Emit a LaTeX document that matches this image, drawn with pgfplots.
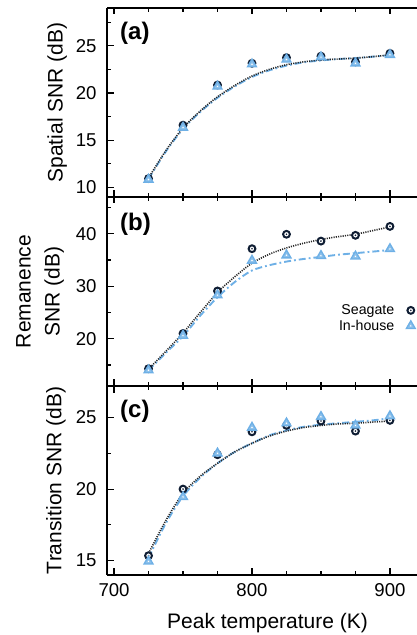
\documentclass[border=0pt]{standalone}
\usepackage{pgfplots}
\pgfplotsset{compat=1.18}
\usepackage{fontspec}
\setmainfont{Liberation Sans}
\definecolor{navy}{HTML}{0F1D33}
\definecolor{lblue}{HTML}{6EB0E6}
\pgfdeclareplotmark{seacirc}{%
  \pgfpathcircle{\pgfpointorigin}{\pgfplotmarksize}%
  \pgfusepathqfillstroke
  \begin{pgfscope}%
  \pgfpathcircle{\pgfpointorigin}{0.9pt}%
  \pgfsetfillcolor{navy}%
  \pgfusepathqfill
  \end{pgfscope}}
\pgfdeclareplotmark{houtri}{%
  \pgfpathmoveto{\pgfpointpolar{90}{\pgfplotmarksize}}%
  \pgfpathlineto{\pgfpointpolar{210}{\pgfplotmarksize}}%
  \pgfpathlineto{\pgfpointpolar{330}{\pgfplotmarksize}}%
  \pgfpathclose
  \pgfusepathqfillstroke
  \begin{pgfscope}%
  \pgfpathcircle{\pgfpointorigin}{0.8pt}%
  \pgfsetfillcolor{white}%
  \pgfusepathqfill
  \end{pgfscope}}
\tikzset{plabel/.style={anchor=north west, inner sep=0pt, font=\fontsize{24}{28}\selectfont\bfseries}}
\pgfplotsset{
  panel/.style={
    scale only axis, width=310pt, height=189pt,
    xmin=694.9, xmax=919.6,
    axis y line*=left, axis x line*=box,
    xtick={700,800,900}, minor xtick={725,750,775,825,850,875},
    tick align=inside, major tick length=6.5pt, minor tick length=4pt,
    every tick/.style={black, line width=1.1pt},
    axis line style={line width=1.6pt},
    tick label style={font=\fontsize{18.6}{22}\selectfont},
    yticklabel style={xshift=-7pt},
    label style={font=\fontsize{21}{29}\selectfont},
    /pgf/number format/assume math mode=true,
    ytick pos=left,
  },
  seafit/.style={black!85, line width=1.6pt, dash pattern=on 1.1pt off 1.2pt, smooth, no marks},
  houfit/.style={lblue, line width=1.9pt, dash pattern=on 7pt off 3pt on 1.8pt off 3pt, smooth, no marks},
  seapt/.style={only marks, mark=seacirc, mark size=3.4pt, mark options={draw=navy, fill=white, line width=2pt, solid}},
  houpt/.style={only marks, mark=houtri, mark size=5.2pt, mark options={draw=lblue, fill=lblue!80!white, line width=1.3pt, solid}},
}
\begin{document}
\begin{tikzpicture}
% ---------------- (a)
\begin{axis}[panel, at={(107pt,438pt)}, anchor=south west,
  ymin=9, ymax=29, ytick={10,15,20,25}, minor ytick={12.5,17.5,22.5,27.5},
  xticklabels={},
  ylabel={Spatial SNR (dB)},
  ylabel style={at={(axis description cs:-0.161,0.5)}, anchor=center}]
\addplot[houfit] coordinates {(725,10.9)(737.5,13.8)(750,16.2)(762.5,18.0)(775,19.5)(787.5,20.7)(800,21.7)(812.5,22.4)(825,22.9)(837.5,23.25)(850,23.45)(862.5,23.6)(875,23.7)(887.5,23.85)(900,24.0)};
\addplot[seafit] coordinates {(725,11.0)(737.5,13.9)(750,16.3)(762.5,18.1)(775,19.6)(787.5,20.8)(800,21.8)(812.5,22.5)(825,23.0)(837.5,23.3)(850,23.5)(862.5,23.6)(875,23.7)(887.5,23.85)(900,24.05)};
\addplot[seapt] coordinates {(725,10.95)(750,16.6)(775,20.85)(800,23.15)(825,23.75)(850,23.9)(875,23.3)(900,24.2)};
\addplot[houpt] coordinates {(725,10.85)(750,16.35)(775,20.7)(800,23.05)(825,23.55)(850,23.8)(875,23.15)(900,24.05)};
\node[plabel] at (axis description cs:0.042,0.926) {(a)};
\end{axis}
% ---------------- (b)
\begin{axis}[panel, at={(107pt,249pt)}, anchor=south west,
  ymin=11, ymax=47, ytick={20,30,40}, minor ytick={15,25,35,45},
  xticklabels={},
  ylabel={Remanence\\SNR (dB)},
  ylabel style={align=center, at={(axis description cs:-0.216,0.5)}, anchor=center},
  legend plot pos=right, legend cell align=right,
  legend style={at={(axis cs:920.7,23.9)}, anchor=east, draw=none, fill=none,
    font=\fontsize{14.2}{17}\selectfont, row sep=0pt, column sep=10pt}]
\addplot[houfit, forget plot] coordinates {(725,14.0)(737.5,17.3)(750,20.5)(762.5,24.4)(775,27.9)(787.5,30.8)(800,33.0)(812.5,34.0)(825,34.7)(837.5,35.2)(850,35.6)(862.5,36.0)(875,36.3)(887.5,36.6)(900,36.9)};
\addplot[seafit, forget plot] coordinates {(725,14.2)(737.5,17.6)(750,21.1)(762.5,25.0)(775,28.8)(787.5,31.8)(800,34.4)(812.5,36.1)(825,37.3)(837.5,38.2)(850,38.9)(862.5,39.45)(875,39.9)(887.5,40.6)(900,41.3)};
\addplot[seapt] coordinates {(725,14.3)(750,21.0)(775,29.1)(800,37.15)(825,39.9)(850,38.6)(875,39.7)(900,41.4)};
\addlegendentry{Seagate}
\addplot[houpt] coordinates {(725,14.0)(750,20.6)(775,28.3)(800,34.9)(825,35.9)(850,35.8)(875,35.7)(900,37.1)};
\addlegendentry{In-house}
\node[plabel] at (axis description cs:0.042,0.915) {(b)};
\end{axis}
% ---------------- (c)
\begin{axis}[panel, at={(107pt,60pt)}, anchor=south west,
  ymin=14, ymax=27.2, ytick={15,20,25}, minor ytick={17.5,22.5},
  xticklabel pos=lower,
  xticklabel style={yshift=-5pt},
  ylabel={Transition SNR (dB)},
  ylabel style={at={(axis description cs:-0.165,0.5)}, anchor=center},
  xlabel={Peak temperature (K)},
  xlabel style={at={(axis description cs:0.518,0)}, anchor=base, yshift=-53pt}]
\addplot[houfit] coordinates {(725,15.2)(737.5,17.6)(750,19.5)(762.5,20.8)(775,21.8)(787.5,22.6)(800,23.2)(812.5,23.75)(825,24.1)(837.5,24.35)(850,24.5)(862.5,24.6)(875,24.7)(887.5,24.8)(900,24.95)};
\addplot[seafit] coordinates {(725,15.5)(737.5,17.8)(750,19.7)(762.5,20.9)(775,21.8)(787.5,22.6)(800,23.2)(812.5,23.7)(825,24.05)(837.5,24.3)(850,24.45)(862.5,24.55)(875,24.6)(887.5,24.68)(900,24.75)};
\addplot[seapt] coordinates {(725,15.35)(750,20.0)(775,22.4)(800,24.0)(825,24.45)(850,24.75)(875,24.05)(900,24.8)};
\addplot[houpt] coordinates {(725,14.95)(750,19.45)(775,22.5)(800,24.3)(825,24.6)(850,25.05)(875,24.45)(900,25.1)};
\node[plabel] at (axis description cs:0.042,0.926) {(c)};
\end{axis}
\pgfresetboundingbox
\path[use as bounding box] (0,0) rectangle (417pt,635pt);
\end{tikzpicture}
\end{document}
